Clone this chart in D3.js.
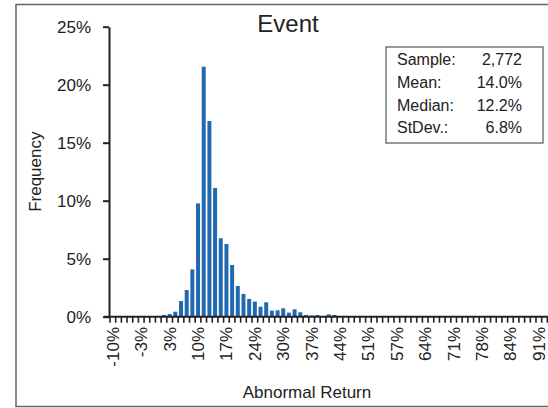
<!DOCTYPE html>
<html lang="en">
  <head>
    <meta charset="UTF-8" />
    <title>Event</title>
    <style>
      * {
        margin: 0;
        padding: 0;
      }
      body {
        background-color: #fff;
      }
      text {
        font-family: "Liberation Sans", Arial, sans-serif;
        fill: #222;
      }
    </style>
  </head>
  <body>
    <script src="https://cdn.jsdelivr.net/npm/d3@7/dist/d3.min.js"></script>
    <script>
      // frequency (%) per bin, bins start at -10% and are about 1.347% wide
      const freq = [
        0, 0, 0, 0, 0, 0, 0, 0, 0, 0.15, 0.23, 0.43, 1.35, 2.3, 4.08, 9.77, 21.55, 16.87, 11.1, 6.76,
        6.27, 4.46, 2.65, 1.96, 1.53, 1.3, 0.86, 1.24, 0.52, 0.55, 0.72, 0.35, 0.64, 0.38, 0.15, 0.1, 0.15, 0.05, 0.2, 0.15,
        0.05, 0, 0, 0, 0.05, 0, 0.05, 0, 0, 0, 0, 0, 0, 0, 0, 0, 0, 0, 0, 0,
        0, 0, 0, 0, 0, 0, 0, 0, 0, 0, 0, 0, 0, 0, 0, 0, 0, 0, 0, 0,
      ];
      // label shown under every 5th bin
      const xLabels = ["-10%", "-3%", "3%", "10%", "17%", "24%", "30%", "37%", "44%", "51%", "57%", "64%", "71%", "78%", "84%", "91%"];
      const yTicks = [0, 5, 10, 15, 20, 25];
      const stats = [
        ["Sample:", "2,772"],
        ["Mean:", "14.0%"],
        ["Median:", "12.2%"],
        ["StDev.:", "6.8%"],
      ];

      const W = 548,
        H = 408;
      const left = 110,
        step = 5.68;
      const svg = d3.select("body").append("svg").attr("width", W).attr("height", H);

      const x = d3
        .scaleBand()
        .domain(d3.range(freq.length))
        .range([left, left + freq.length * step])
        .paddingInner(0.3)
        .paddingOuter(0.15);
      const y = d3.scaleLinear().domain([0, 25]).range([316.7, 26.7]);

      // outer frame
      svg
        .append("rect")
        .attr("x", 16)
        .attr("y", 4.5)
        .attr("width", 600)
        .attr("height", 402)
        .attr("fill", "none")
        .attr("stroke", "#666")
        .attr("stroke-width", 1.5);

      // bars
      svg
        .selectAll("rect.bar")
        .data(freq)
        .enter()
        .append("rect")
        .classed("bar", true)
        .attr("x", (d, i) => x(i))
        .attr("width", x.bandwidth())
        .attr("y", (d) => y(d))
        .attr("height", (d) => y(0) - y(d))
        .attr("fill", "#2068b0");

      // y axis
      const yAxis = svg
        .append("g")
        .attr("transform", "translate(109,0)")
        .call(
          d3
            .axisLeft(y)
            .tickValues(yTicks)
            .tickSize(6)
            .tickSizeOuter(0)
            .tickPadding(12)
            .tickFormat((d) => d + "%")
        );
      yAxis.select(".domain").attr("stroke", "#222").attr("stroke-width", 2);
      yAxis.selectAll(".tick line").attr("stroke", "#222").attr("stroke-width", 2);
      yAxis.selectAll(".tick text").attr("font-size", 17).attr("fill", "#333").style("font-family", "Liberation Sans");

      // x axis line and ticks between bins
      const x0 = x.range()[0];
      svg
        .append("line")
        .attr("x1", 104)
        .attr("x2", W + 20)
        .attr("y1", y(0))
        .attr("y2", y(0))
        .attr("stroke", "#222")
        .attr("stroke-width", 2);
      svg
        .selectAll("line.xtick")
        .data(d3.range(freq.length + 1))
        .enter()
        .append("line")
        .classed("xtick", true)
        .attr("x1", (d) => x0 + d * x.step())
        .attr("x2", (d) => x0 + d * x.step())
        .attr("y1", y(0))
        .attr("y2", y(0) + 6)
        .attr("stroke", "#222")
        .attr("stroke-width", 1.6);

      // x labels, rotated
      svg
        .selectAll("text.xlab")
        .data(xLabels)
        .enter()
        .append("text")
        .classed("xlab", true)
        .attr("transform", (d, i) => `translate(${x(i * 5) + x.bandwidth() / 2 + 6},327) rotate(-90)`)
        .attr("text-anchor", "end")
        .attr("font-size", 17)
        .attr("fill", "#333")
        .text((d) => d);

      // titles
      svg
        .append("text")
        .attr("x", 288)
        .attr("y", 32)
        .attr("text-anchor", "middle")
        .attr("font-size", 24)
        .text("Event");
      svg
        .append("text")
        .attr("transform", `translate(41,${(y(0) + y(25)) / 2}) rotate(-90)`)
        .attr("text-anchor", "middle")
        .attr("font-size", 17)
        .attr("fill", "#333")
        .text("Frequency");
      svg
        .append("text")
        .attr("x", 307)
        .attr("y", 398)
        .attr("text-anchor", "middle")
        .attr("font-size", 17)
        .attr("fill", "#333")
        .text("Abnormal Return");

      // stats box
      svg
        .append("rect")
        .attr("x", 386)
        .attr("y", 47)
        .attr("width", 157)
        .attr("height", 96)
        .attr("fill", "#fff")
        .attr("stroke", "#555")
        .attr("stroke-width", 1.2);
      const row = svg
        .selectAll("g.stat")
        .data(stats)
        .enter()
        .append("g")
        .classed("stat", true)
        .attr("transform", (d, i) => `translate(0,${65 + i * 22.8})`);
      row
        .append("text")
        .attr("x", 397)
        .attr("font-size", 16)
        .attr("fill", "#333")
        .text((d) => d[0]);
      row
        .append("text")
        .attr("x", 522)
        .attr("text-anchor", "end")
        .attr("font-size", 16)
        .attr("fill", "#333")
        .text((d) => d[1]);
    </script>
  </body>
</html>
